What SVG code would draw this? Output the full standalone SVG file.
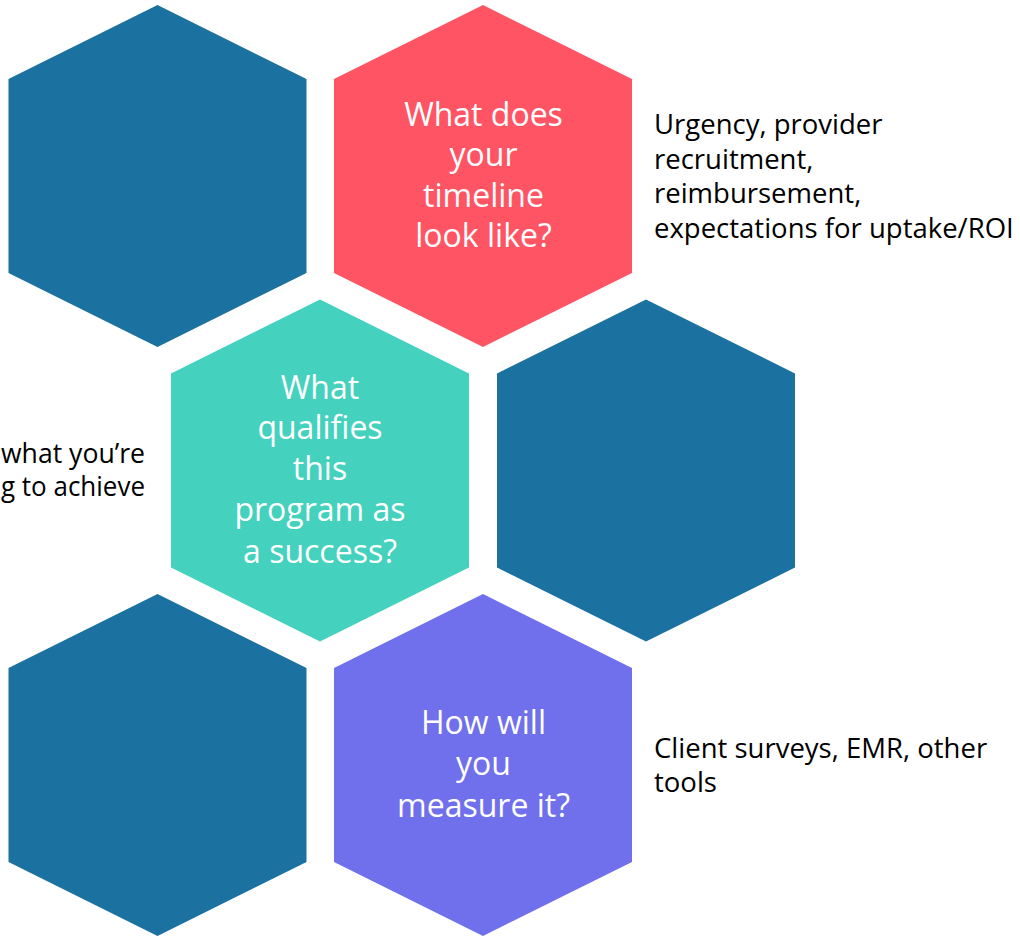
<svg xmlns="http://www.w3.org/2000/svg" width="1020" height="936" viewBox="0 0 1020 936">
  <defs>
    <!-- pointy-top hexagon centred on the origin: half-width 149, height 342 -->
    <polygon id="hex" points="0,-171 149,-97 149,97 0,171 -149,97 -149,-97"/>
  </defs>
  <style>
    .blue { fill: #1b71a0; }
    .red { fill: #fe5464; }
    .teal { fill: #44d1bd; }
    .purple { fill: #7070ec; }
    .q { font-family: "Open Sans", "Noto Sans", "Liberation Sans", sans-serif; font-size: 32px; fill: #ffffff; text-anchor: middle; }
    .note { font-family: "Open Sans", "Noto Sans", "Liberation Sans", sans-serif; font-size: 27.5px; fill: #000000; }
  </style>

  <g id="hex-top-left">
    <use href="#hex" class="blue" x="157.5" y="176"/>
  </g>

  <!-- centred lines are written without whitespace between tspans so no stray space shifts them -->
  <g id="hex-timeline">
    <use href="#hex" class="red" x="483" y="176"/>
    <text class="q"><tspan x="483.5" y="126">What does</tspan><tspan x="483.5" y="166">your</tspan><tspan x="483.5" y="207">timeline</tspan><tspan x="483.5" y="247">look like?</tspan></text>
  </g>

  <g id="hex-success">
    <use href="#hex" class="teal" x="320" y="470.5"/>
    <text class="q"><tspan x="320" y="399">What</tspan><tspan x="320" y="439">qualifies</tspan><tspan x="320" y="480">this</tspan><tspan x="320" y="521">program as</tspan><tspan x="320" y="563">a success?</tspan></text>
  </g>

  <g id="hex-mid-right">
    <use href="#hex" class="blue" x="646" y="470.5"/>
  </g>

  <g id="hex-bottom-left">
    <use href="#hex" class="blue" x="157.5" y="765"/>
  </g>

  <g id="hex-measure">
    <use href="#hex" class="purple" x="483" y="765"/>
    <text class="q"><tspan x="483.5" y="734">How will</tspan><tspan x="483.5" y="775">you</tspan><tspan x="483.5" y="817">measure it?</tspan></text>
  </g>

  <g id="connectors"/>

  <g id="notes">
    <text class="note">
      <tspan x="654" y="134">Urgency, provider</tspan>
      <tspan x="654" y="168.5">recruitment,</tspan>
      <tspan x="654" y="203">reimbursement,</tspan>
      <tspan x="654" y="237.5">expectations for uptake/ROI</tspan>
    </text>
    <text class="note" x="1" y="462.5" textLength="144" lengthAdjust="spacingAndGlyphs">what you’re</text>
    <text class="note" x="1" y="496" textLength="144" lengthAdjust="spacingAndGlyphs">g to achieve</text>
    <text class="note">
      <tspan x="654" y="758">Client surveys, EMR, other</tspan>
      <tspan x="654" y="792">tools</tspan>
    </text>
  </g>
</svg>
